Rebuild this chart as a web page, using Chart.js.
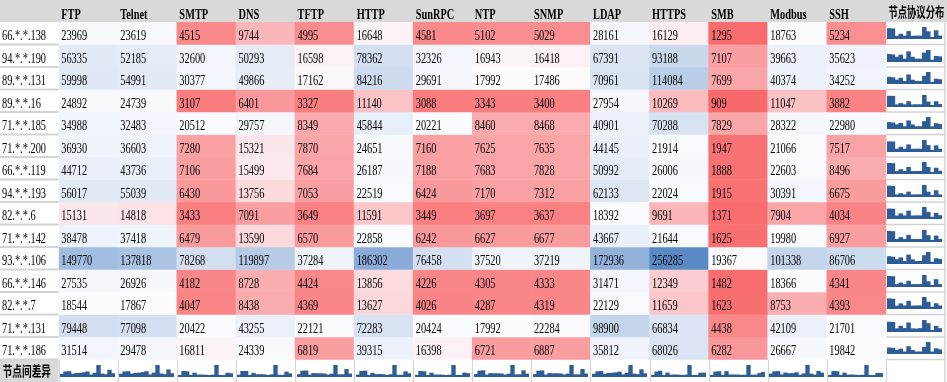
<!DOCTYPE html>
<html>
<head>
<meta charset="utf-8">
<script src="https://cdn.jsdelivr.net/npm/chart.js@4.4.1/dist/chart.umd.min.js"></script>
<style>
html,body{margin:0;padding:0;background:#fff;}
#wrap{position:relative;width:947px;height:382px;overflow:hidden;}
#main{position:absolute;left:0;top:0;}
.spark{position:absolute;}
</style>
</head>
<body>
<div id="wrap"><canvas id="main" width="947" height="382"></canvas></div>
<script>
// ---------- data ----------
const nodes = ['66.*.*.138','94.*.*.190','89.*.*.131','89.*.*.16','71.*.*.185','71.*.*.200','66.*.*.119','94.*.*.193','82.*.*.6','71.*.*.142','93.*.*.106','66.*.*.146','82.*.*.7','71.*.*.131','71.*.*.186'];
const protocols = ['FTP','Telnet','SMTP','DNS','TFTP','HTTP','SunRPC','NTP','SNMP','LDAP','HTTPS','SMB','Modbus','SSH'];
const distHeader = '节点协议分布';
const diffLabel = '节点间差异';

const ftp    = [23969,56335,59998,24892,34988,36930,44712,56017,15131,38478,149770,27535,18544,79448,31514];
const telnet = [23619,52185,54991,24739,32483,36603,43736,55039,14818,37418,137818,26926,17867,77098,29478];
const smtp   = [4515,32600,30377,3107,20512,7280,7106,6430,3433,6479,78268,4182,4047,20422,16811];
const dns    = [9744,50293,49866,6401,29757,15321,15499,13756,7091,13590,119897,8728,8438,43255,24339];
const tftp   = [4995,16598,17162,3327,8349,7870,7684,7053,3649,6570,37284,4424,4369,22121,6819];
const http   = [16648,78362,84216,11140,45844,24651,26187,22519,11591,22858,186302,13856,13627,72283,39315];
const sunrpc = [4581,32326,29691,3088,20221,7160,7188,6424,3449,6242,76458,4226,4026,20424,16398];
const ntp    = [5102,16943,17992,3343,8460,7625,7683,7170,3697,6627,37520,4305,4287,17992,6721];
const snmp   = [5029,16418,17486,3400,8468,7635,7828,7312,3637,6677,37219,4333,4319,22284,6887];
const ldap   = [28161,67391,70961,27954,40901,44145,50992,62133,18392,43667,172936,31471,22129,98900,35812];
const https  = [16129,93188,114084,10269,70288,21914,26006,22024,9691,21644,256285,12349,11659,66834,68026];
const smb    = [1295,7107,7699,909,7829,1947,1888,1915,1371,1625,19367,1482,1623,4438,6282];
const modbus = [18763,39663,40374,11047,28322,21066,22603,30391,7904,19980,101338,18366,8753,42109,26667];
const ssh    = [5234,35623,34252,3882,22980,7517,8496,6675,4034,6927,86706,4341,4393,21701,19842];

const series = [ftp,telnet,smtp,dns,tftp,http,sunrpc,ntp,snmp,ldap,https,smb,modbus,ssh];

// ---------- colour scale (3-colour, min / 50th percentile / max) ----------
const allVals = series.flat().slice().sort((a,b)=>a-b);
function percentile(arr,p){const k=p*(arr.length-1);const f=Math.floor(k);const c=Math.min(f+1,arr.length-1);return arr[f]+(arr[c]-arr[f])*(k-f);}
const vMin = allVals[0], vMax = allVals[allVals.length-1], vMid = percentile(allVals,0.5);
const cLow=[248,105,107], cMid=[252,252,255], cHigh=[90,138,198];
function mix(a,b,t){t=Math.max(0,Math.min(1,t));return 'rgb('+a.map((v,i)=>Math.round(v+(b[i]-v)*t)).join(',')+')';}
function colorFor(v){return v<=vMid ? mix(cLow,cMid,(v-vMin)/(vMid-vMin)) : mix(cMid,cHigh,(v-vMid)/(vMax-vMid));}

const xLabels = [...protocols, distHeader];
const nRows = nodes.length;
const SPARK = '#2d5c97';
const FONT_SERIF = '"Liberation Serif","Times New Roman",serif';
const FONT_CJK = '"Noto Sans CJK SC","Noto Sans CJK JP",sans-serif';
const SX = 0.69;

// one dataset per node row: floating bars spanning the row band
const datasets = nodes.map((node,r)=>({
  label: node,
  data: series.map(()=>[r, r+1]),
  backgroundColor: series.map(col=>colorFor(col[r])),
  borderWidth: 0,
  grouped: false,
  categoryPercentage: 1,
  barPercentage: 1
}));

function drawText(ctx,s,x,y,font,base){
  ctx.save();
  ctx.translate(x,y);
  ctx.scale(SX,1);
  ctx.font=font;
  ctx.textAlign='left';
  ctx.textBaseline=base||'alphabetic';
  ctx.fillStyle='#000';
  ctx.fillText(s,0,0);
  ctx.restore();
}

const tablePlugin = {
  id:'table',
  beforeDraw(chart){
    const ctx=chart.ctx, xs=chart.scales.x, ys=chart.scales.y;
    const W=chart.width, H=chart.height;
    const colW = xs.width / xLabels.length;
    const L = xs.left, top = ys.top;
    const rowH = ys.height/(nRows+1);
    ctx.save();
    ctx.fillStyle='#fff'; ctx.fillRect(0,0,W,H);
    ctx.fillStyle='#d9d9d9'; ctx.fillRect(0,0,W,top);
    ctx.fillRect(0, ys.getPixelForValue(nRows), L, rowH+1);
    ctx.strokeStyle='#d3d3d3';
    ctx.lineWidth=2;
    for(let r=1;r<=nRows;r++){
      const y=ys.getPixelForValue(r);
      ctx.beginPath(); ctx.moveTo(0,y); ctx.lineTo(L,y); ctx.stroke();
    }
    ctx.lineWidth=1.5;
    const dl = xs.getPixelForValue(protocols.length)-colW/2;
    for(let r=1;r<=nRows;r++){
      const y=ys.getPixelForValue(r);
      ctx.beginPath(); ctx.moveTo(dl,y); ctx.lineTo(dl+colW,y); ctx.stroke();
    }
    ctx.beginPath(); ctx.moveTo(dl+colW,top); ctx.lineTo(dl+colW,H); ctx.stroke();
    ctx.lineWidth=1;
    const yb = ys.getPixelForValue(nRows);
    for(let c=0;c<=protocols.length;c++){
      const x=Math.round(xs.getPixelForValue(c)-colW/2)+0.5;
      ctx.beginPath(); ctx.moveTo(x,yb); ctx.lineTo(x,H); ctx.stroke();
    }
    ctx.restore();
  },
  afterDraw(chart){
    const ctx=chart.ctx, xs=chart.scales.x, ys=chart.scales.y;
    const colW = xs.width / xLabels.length;
    const top = ys.top;
    xLabels.forEach((lab,c)=>{
      const x = xs.getPixelForValue(c)-colW/2+2.5;
      if(c<protocols.length) drawText(ctx,lab,x,18.5,'bold 15px '+FONT_SERIF);
      else drawText(ctx,lab,x,top/2+0.5,'bold 13.5px '+FONT_CJK,'middle');
    });
    nodes.forEach((node,r)=>{
      const y = ys.getPixelForValue(r)+18;
      drawText(ctx,node,2,y,'15px '+FONT_SERIF);
      series.forEach((col,c)=>{
        const x = xs.getPixelForValue(c)-colW/2+2.5;
        drawText(ctx,String(col[r]),x,y,'15px '+FONT_SERIF);
      });
    });
    const yb = ys.getPixelForValue(nRows);
    drawText(ctx,diffLabel,2.7,yb+11,'bold 14px '+FONT_CJK,'middle');
  }
};

const main = new Chart(document.getElementById('main'),{
  type:'bar',
  data:{labels:xLabels, datasets},
  options:{
    responsive:false, animation:false, events:[], devicePixelRatio:1,
    layout:{padding:{left:58.7,right:2,top:22,bottom:0}},
    plugins:{legend:{display:false},tooltip:{enabled:false}},
    scales:{
      x:{type:'category',offset:true,display:false,grid:{display:false}},
      y:{type:'linear',min:0,max:nRows+1,reverse:true,display:false,grid:{display:false}}
    }
  },
  plugins:[tablePlugin]
});

// ---------- sparklines ----------
function sparkline(left,top,w,h,labels,values){
  const cv=document.createElement('canvas');
  cv.className='spark'; cv.width=w; cv.height=h;
  cv.style.left=left+'px'; cv.style.top=top+'px';
  document.getElementById('wrap').appendChild(cv);
  new Chart(cv,{
    type:'bar',
    data:{labels,datasets:[{data:values,backgroundColor:SPARK,borderWidth:0,barPercentage:1,categoryPercentage:0.96,inflateAmount:0.4}]},
    options:{
      responsive:false,animation:false,events:[],devicePixelRatio:1,
      layout:{padding:{left:0,right:0,top:0,bottom:1}},
      plugins:{legend:{display:false},tooltip:{enabled:false}},
      scales:{
        x:{display:true,ticks:{display:false},grid:{display:false,drawTicks:false},border:{display:true,color:SPARK,width:2}},
        y:{display:false,min:0,max:Math.max(...values)}
      }
    }
  });
}
{
  const xs=main.scales.x, ys=main.scales.y;
  const colW = xs.width / xLabels.length;
  const w = Math.round(colW-4), h=12;
  const dl = Math.round(xs.getPixelForValue(protocols.length)-colW/2+1.5);
  nodes.forEach((node,r)=>{
    const t = Math.round(ys.getPixelForValue(r)+5);
    sparkline(dl,t,w,h,protocols,series.map(col=>col[r]));
  });
  const tb = Math.round(ys.getPixelForValue(nRows)+5);
  series.forEach((col,c)=>{
    const l = Math.round(xs.getPixelForValue(c)-colW/2+1.5);
    sparkline(l,tb,w,h,nodes,col);
  });
}
</script>
</body>
</html>
